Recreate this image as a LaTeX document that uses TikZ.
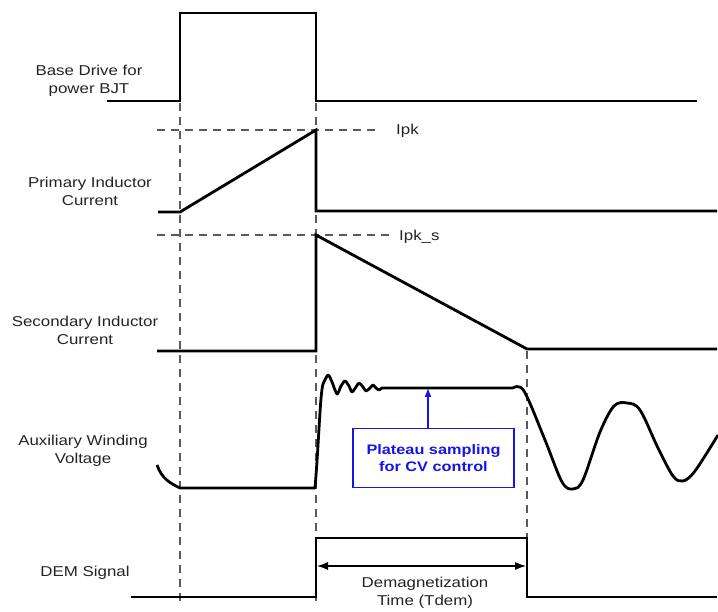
\documentclass[tikz,border=0pt]{standalone}
\usepackage{fontspec}
\setmainfont[FakeStretch=1.18]{Liberation Sans}
\usetikzlibrary{arrows.meta}
\definecolor{dashgray}{RGB}{90,90,90}
\definecolor{noteblue}{RGB}{20,20,235}
\definecolor{textgray}{RGB}{35,35,35}
\begin{document}
\begin{tikzpicture}[x=1pt,y=-1pt,
  wave/.style={line width=2.8pt,line join=miter,black},
  guide/.style={dashgray,line width=1.1pt,dash pattern=on 8pt off 6pt},
  lbl/.style={align=center,text=textgray,font=\fontsize{14.3}{18}\selectfont,inner sep=0pt},
  note/.style={draw=noteblue,line width=1.4pt,text=noteblue,align=center,
    font=\bfseries\fontsize{13.8}{17}\selectfont,minimum width=161pt,minimum height=59pt,inner sep=0pt},
  notearrow/.style={noteblue,line width=1.3pt,-{Latex[length=9pt,width=7pt]}},
  dimarrow/.style={black,line width=1.2pt,{Latex[length=11pt,width=8pt]}-{Latex[length=11pt,width=8pt]}}]
\useasboundingbox (0,0) rectangle (718,612);
% guides
\draw[guide] (180,103) -- (180,602);
\draw[guide] (316,103) -- (316,602);
\draw[guide] (527,351) -- (527,602);
\draw[guide] (157,130) -- (375,130);
\draw[guide] (157,235) -- (390,235);
% labels
\node[lbl] (lbase) at (89,81) {Base Drive for\\power BJT};
\node[lbl] (lprim) at (90,191) {Primary Inductor\\Current};
\node[lbl] (lsec) at (85,330) {Secondary Inductor\\Current};
\node[lbl] (laux) at (83,451) {Auxiliary Winding\\Voltage};
\node[lbl] (ldem) at (85,573) {DEM Signal};
\node[lbl,anchor=west] (ipk) at (396,131) {Ipk};
\node[lbl,anchor=west] (ipks) at (399,237) {Ipk\_s};
% base drive
\draw[wave] (107,101) -- (180,101) -- (180,13) -- (316,13) -- (316,101) -- (697,101);
% primary current
\draw[wave] (158,212) -- (180,212) -- (316,130) -- (316,211) -- (717,211);
% secondary current
\draw[wave] (157,351) -- (316,351) -- (316,235) -- (527,349) -- (717,349);
% auxiliary winding voltage
\draw[wave,line join=round] (157,465) .. controls (162,479) and (170,483) .. (180,488) -- (315,488)
  .. controls (319,440) and (320,395) .. (323,384)
  plot[smooth,tension=0.45] coordinates {(323,384) (328,375) (332,382) (337,394) (341,386) (345,381) (349,386) (352,392) (356,387) (359,383) (363,387) (366,391) (370,388) (373,385) (376,388) (379,390) (382,388) (386,388)}
  -- (513,388)
  plot[smooth,tension=0.55] coordinates {(513,388) (524,391) (545,440) (562,482) (573,489) (583,480) (600,432) (614,406) (627,403) (640,410) (658,448) (673,476) (683,481) (695,471) (718,435)};
\coordinate (plateau) at (428,388);
% DEM
\draw[wave] (131,597) -- (316,597) -- (316,538) -- (527,538) -- (527,597) -- (717,597);
% demagnetization time
\coordinate (dA) at (317,566);
\coordinate (dB) at (526,566);
\draw[dimarrow] (dA) -- (dB);
\node[lbl] (tdem) at (425,593) {Demagnetization\\Time (Tdem)};
% note
\node[note] (box) at (433.5,458) {Plateau sampling\\for CV control};
\draw[notearrow] (box.north -| plateau) -- (plateau);
\end{tikzpicture}
\end{document}
